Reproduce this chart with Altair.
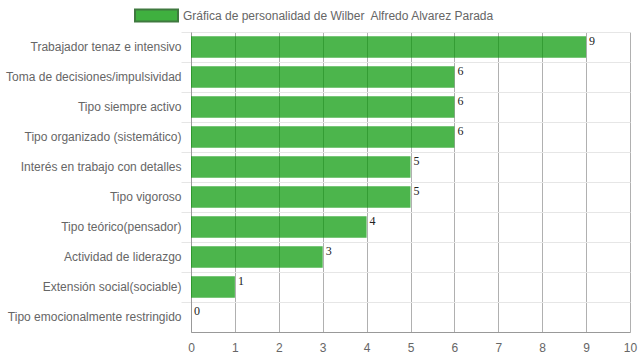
import altair as alt
import pandas as pd

categories = [
    "Trabajador tenaz e intensivo",
    "Toma de decisiones/impulsividad",
    "Tipo siempre activo",
    "Tipo organizado (sistemático)",
    "Interés en trabajo con detalles",
    "Tipo vigoroso",
    "Tipo teórico(pensador)",
    "Actividad de liderazgo",
    "Extensión social(sociable)",
    "Tipo emocionalmente restringido",
]
values = [9, 6, 6, 6, 5, 5, 4, 3, 1, 0]
series_name = "Gráfica de personalidad de Wilber\u00a0 Alfredo Alvarez Parada"
x_ticks = list(range(0, 11))

df = pd.DataFrame({"cat": categories, "val": values, "series": [series_name] * len(values)})

y_enc = alt.Y(
    "cat:N",
    sort=categories,
    title=None,
    scale=alt.Scale(paddingInner=0, paddingOuter=0),
    axis=alt.Axis(
        bandPosition=0,
        grid=True,
        gridColor="#e6e6e6",
        tickColor="#e6e6e6",
        tickSize=10,
        labelPadding=0,
        labelFont="Liberation Sans",
        labelFontSize=12,
        labelColor="#666666",
        domainColor="#999999",
        labelLimit=300,
    ),
)

x_enc = alt.X(
    "val:Q",
    title=None,
    scale=alt.Scale(domain=[0, 10], nice=False),
    axis=alt.Axis(
        values=x_ticks,
        grid=True,
        gridColor="#b0b0b0",
        ticks=False,
        labelFlush=False,
        labelPadding=10,
        labelFont="Liberation Sans",
        labelFontSize=12,
        labelColor="#666666",
        domainColor="#999999",
    ),
)

bars = alt.Chart(df).mark_bar(size=21.6, opacity=0.7).encode(
    x=x_enc,
    y=y_enc,
    color=alt.Color(
        "series:N",
        scale=alt.Scale(range=["#009600"]),
        legend=alt.Legend(
            title=None,
            orient="none",
            legendX=-57,
            legendY=-39,
            symbolType="M-1,-0.28L1,-0.28L1,0.28L-1,0.28Z",
            symbolSize=1849,
            symbolStrokeColor="#004d00",
            symbolStrokeWidth=2,
            symbolOpacity=0.75,
            labelFont="Liberation Sans",
            labelFontSize=12,
            labelColor="#666666",
            labelLimit=600,
            padding=0,
        ),
    ),
)

labels = alt.Chart(df).mark_text(
    align="left",
    baseline="middle",
    dx=3,
    dy=-6,
    font="Liberation Serif",
    fontSize=12,
    color="#222222",
).encode(
    x=alt.X("val:Q"),
    y=alt.Y("cat:N", sort=categories),
    text="val:Q",
)

chart = (
    alt.layer(bars, labels)
    .properties(
        width=439,
        height=300,
        autosize="none",
        padding={"left": 191, "top": 32, "right": 9, "bottom": 26},
    )
    .configure_view(stroke=None)
)

chart.save("out.html", embed_options={"renderer": "svg", "actions": False})

# full-bleed page so edge labels are not clipped
with open("out.html", encoding="utf-8") as f:
    html = f.read()
html = html.replace(
    "</head>",
    "<style>body{margin:0 !important;overflow:hidden}svg{overflow:visible !important}</style></head>",
    1,
)
with open("out.html", "w", encoding="utf-8") as f:
    f.write(html)
